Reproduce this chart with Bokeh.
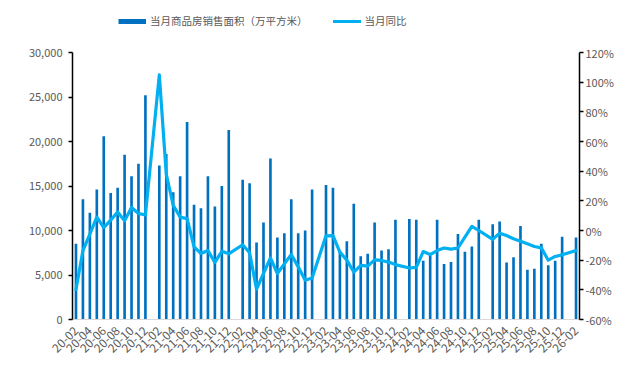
import math
from bokeh.plotting import figure
from bokeh.models import (ColumnDataSource, Range1d, LinearAxis, FixedTicker,
                          NumeralTickFormatter, PrintfTickFormatter, Legend, LegendItem)
from bokeh.embed import file_html
from bokeh.resources import INLINE

# Months 2020-02 .. 2026-02 (January figures are reported together with February)
months = ["20-02", "20-03", "20-04", "20-05", "20-06", "20-07", "20-08", "20-09", "20-10", "20-11", "20-12",
          "21-01", "21-02", "21-03", "21-04", "21-05", "21-06", "21-07", "21-08", "21-09", "21-10", "21-11", "21-12",
          "22-01", "22-02", "22-03", "22-04", "22-05", "22-06", "22-07", "22-08", "22-09", "22-10", "22-11", "22-12",
          "23-01", "23-02", "23-03", "23-04", "23-05", "23-06", "23-07", "23-08", "23-09", "23-10", "23-11", "23-12",
          "24-01", "24-02", "24-03", "24-04", "24-05", "24-06", "24-07", "24-08", "24-09", "24-10", "24-11", "24-12",
          "25-01", "25-02", "25-03", "25-04", "25-05", "25-06", "25-07", "25-08", "25-09", "25-10", "25-11", "25-12",
          "26-01", "26-02"]

# 当月商品房销售面积（万平方米）
area = [8500, 13500, 12000, 14600, 20600, 14200, 14800, 18500, 16100, 17500, 25200,
        None, 17300, 18600, 14300, 16100, 22200, 12900, 12500, 16100, 12700, 15000, 21300,
        None, 15700, 15300, 8650, 10900, 18100, 9200, 9700, 13500, 9700, 10000, 14600,
        None, 15100, 14800, 7600, 8800, 13000, 7100, 7400, 10900, 7750, 7900, 11200,
        None, 11300, 11200, 6600, 7200, 11200, 6250, 6450, 9600, 7600, 8200, 11200,
        None, 10700, 11000, 6400, 7000, 10500, 5600, 5700, 8500, 6100, 6600, 9300,
        None, 9200]

# 当月同比 (%)
yoy = [-39.9, -13.5, -2.5, 9.0, 2.0, 7.0, 12.5, 6.5, 15.5, 11.5, 10.5,
       None, 104.9, 38.0, 17.0, 9.0, 8.0, -11.0, -15.5, -13.5, -21.5, -14.0, -15.7,
       None, -9.6, -15.0, -39.5, -29.0, -18.5, -29.0, -22.5, -16.2, -24.5, -33.5, -32.0,
       None, -3.6, -3.5, -14.6, -20.0, -28.0, -23.5, -24.0, -19.8, -20.2, -21.3, -23.0,
       None, -25.3, -24.8, -14.2, -16.2, -13.5, -11.8, -12.6, -11.8, -4.5, 2.8, 0.0,
       None, -6.0, -1.8, -3.4, -5.6, -7.2, -9.0, -10.8, -11.7, -20.0, -17.5, -16.4,
       None, -13.5]

area_ticks = [0, 5000, 10000, 15000, 20000, 25000, 30000]
pct_ticks = [-60, -40, -20, 0, 20, 40, 60, 80, 100, 120]

bar_idx = [i for i, v in enumerate(area) if v is not None]
bar_src = ColumnDataSource(dict(x=bar_idx, top=[area[i] for i in bar_idx]))
line_idx = [i for i, v in enumerate(yoy) if v is not None]
line_src = ColumnDataSource(dict(x=line_idx, y=[yoy[i] for i in line_idx]))

BAR = "#0070C0"
LINE = "#00B0F0"
GREY = "#595959"
FONT = "Noto Sans CJK SC"

# frame spans from the legend row down to the x axis; the axes are bounded to their tick range
FRAME_H = 305.0
AXIS_H = 267.0
y_end = area_ticks[-1] * FRAME_H / AXIS_H
pct_end = pct_ticks[0] + (pct_ticks[-1] - pct_ticks[0]) * FRAME_H / AXIS_H

p = figure(width=616, height=366, output_backend="svg", toolbar_location=None,
           x_range=Range1d(-0.5, len(months) - 0.5), y_range=Range1d(0, y_end),
           min_border_left=72, min_border_right=32, min_border_top=14, min_border_bottom=47)
p.extra_y_ranges = {"pct": Range1d(pct_ticks[0], pct_end)}
p.xgrid.visible = False
p.ygrid.visible = False
p.outline_line_color = None
p.background_fill_color = "white"
p.border_fill_color = "white"

bars = p.vbar(x="x", top="top", width=0.38, source=bar_src, fill_color=BAR, line_color=None)
ln = p.line(x="x", y="y", source=line_src, y_range_name="pct", line_color=LINE,
            line_width=3.2, line_join="round", line_cap="round")
legend_bar = p.line(x=[0], y=[float("nan")], line_color=BAR, line_width=5)

# left axis
la = p.yaxis[0]
la.bounds = (area_ticks[0], area_ticks[-1])
la.ticker = FixedTicker(ticks=area_ticks)
la.formatter = NumeralTickFormatter(format="0,0")
la.axis_line_color = "black"
la.axis_line_width = 1.5
la.major_tick_line_color = "black"
la.major_tick_line_width = 1.5
la.major_tick_out = 4
la.major_tick_in = 0
la.minor_tick_line_color = None
la.major_label_text_font = FONT
la.major_label_text_font_size = "11px"
la.major_label_text_color = GREY
la.major_label_standoff = 6

# right axis
ra = LinearAxis(y_range_name="pct")
ra.bounds = (pct_ticks[0], pct_ticks[-1])
ra.ticker = FixedTicker(ticks=pct_ticks)
ra.formatter = PrintfTickFormatter(format="%d%%")
ra.axis_line_color = "black"
ra.axis_line_width = 1.5
ra.major_tick_line_color = "black"
ra.major_tick_line_width = 1.5
ra.major_tick_out = 4
ra.major_tick_in = 0
ra.minor_tick_line_color = None
ra.major_label_text_font = FONT
ra.major_label_text_font_size = "11px"
ra.major_label_text_color = GREY
ra.major_label_standoff = 2
p.add_layout(ra, "right")

# bottom axis
xa = p.xaxis[0]
xa.ticker = FixedTicker(ticks=list(range(0, len(months), 2)))
xa.major_label_overrides = {i: months[i] for i in range(0, len(months), 2)}
xa.major_label_orientation = math.pi / 4
xa.axis_line_color = "#D9D9D9"
xa.axis_line_width = 1
xa.major_tick_line_color = None
xa.minor_tick_line_color = None
xa.major_label_text_font = FONT
xa.major_label_text_font_size = "12px"
xa.major_label_text_color = GREY
xa.major_label_standoff = 3

legend = Legend(items=[LegendItem(label="当月商品房销售面积（万平方米）", renderers=[legend_bar]),
                       LegendItem(label="当月同比", renderers=[ln])],
                orientation="horizontal", location=(46, 291),
                label_text_font=FONT, label_text_font_size="10.5px", label_text_color=GREY,
                glyph_width=28, glyph_height=14, label_height=14, label_standoff=4,
                spacing=25, padding=0, margin=0, border_line_color=None,
                background_fill_alpha=0)
p.add_layout(legend)

open("out.html", "w").write(file_html(p, INLINE))
